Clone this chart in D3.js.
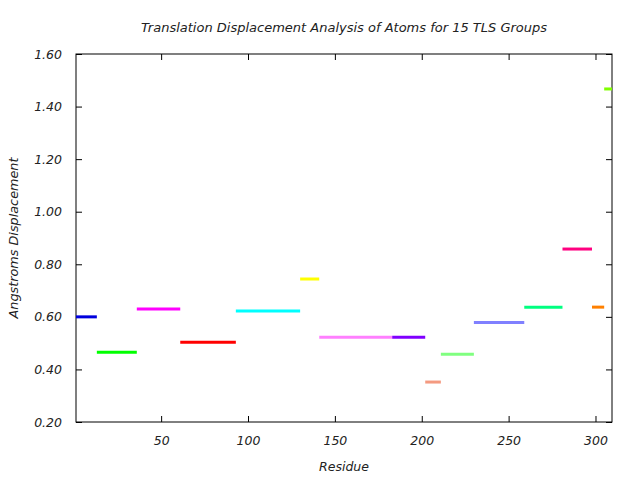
<!DOCTYPE html>
<html lang="en">
<style>
  body { margin: 0; background: #fff; }
  text { font-family: "DejaVu Sans", sans-serif; font-style: italic; }
</style>
<body>
<script src="https://cdn.jsdelivr.net/npm/d3@7"></script>
<div id="vis"></div>
<script>

// TLS group residue ranges and their displacement
var groupStart = [1, 13, 36, 61, 93, 130, 141, 183, 202, 211, 230, 259, 281, 298, 305];
var groupEnd   = [13, 36, 61, 93, 130, 141, 183, 202, 211, 230, 259, 281, 298, 305, 312];
var displacement = [0.60, 0.465, 0.63, 0.503, 0.622, 0.744, 0.522, 0.522, 0.352, 0.458, 0.579, 0.637, 0.858, 0.637, 1.467];
var groupColors = ["#0000dd", "#00ff00", "#ff00ff", "#ff0000", "#00ffff", "#ffff00", "#ff80ff", "#8000ff",
                   "#f49a80", "#80ff80", "#8080ff", "#00ff80", "#ff0080", "#ff8000", "#80ff00"];
var xTicks = [50, 100, 150, 200, 250, 300];
var yTicks = [0.2, 0.4, 0.6, 0.8, 1.0, 1.2, 1.4, 1.6];

var margin = {top: 54, right: 28, bottom: 58, left: 76},
    width = 640 - margin.left - margin.right,
    height = 480 - margin.top - margin.bottom;

var svg = d3.select("#vis").append("svg")
    .attr("width", 640)
    .attr("height", 480)
  .append("g")
    .attr("transform", `translate(${margin.left},${margin.top})`);

var x = d3.scaleLinear().domain([1, 309.5]).range([0, width]);
var y = d3.scaleLinear().domain([0.2, 1.6]).range([height, 0]);

svg.append("defs").append("clipPath").attr("id", "clip")
   .append("rect").attr("width", width).attr("height", height);

// inward ticks on all four sides
svg.append("g").attr("transform", `translate(0,${height})`)
   .call(d3.axisBottom(x).tickValues(xTicks).tickSizeInner(-6).tickSizeOuter(0).tickPadding(14).tickFormat(d3.format("d")));
svg.append("g")
   .call(d3.axisTop(x).tickValues(xTicks).tickSizeInner(-6).tickSizeOuter(0).tickFormat(""));
svg.append("g")
   .call(d3.axisLeft(y).tickValues(yTicks).tickSizeInner(-6).tickSizeOuter(0).tickPadding(14).tickFormat(d3.format(".2f")));
svg.append("g").attr("transform", `translate(${width},0)`)
   .call(d3.axisRight(y).tickValues(yTicks).tickSizeInner(-6).tickSizeOuter(0).tickFormat(""));

svg.selectAll(".domain").remove();
svg.selectAll(".tick line").attr("stroke", "black");
svg.selectAll(".tick text").attr("font-size", "12.5px").attr("fill", "#222")
   .style("font-family", "DejaVu Sans").style("font-style", "italic");

svg.append("rect")
   .attr("width", width).attr("height", height)
   .attr("fill", "none").attr("stroke", "black").attr("stroke-width", 1);

svg.append("g").attr("clip-path", "url(#clip)")
   .selectAll("line")
   .data(displacement)
   .enter()
   .append("line")
   .attr("x1", function(d, i) { return x(groupStart[i]); })
   .attr("x2", function(d, i) { return x(groupEnd[i]); })
   .attr("y1", function(d) { return y(d); })
   .attr("y2", function(d) { return y(d); })
   .attr("stroke", function(d, i) { return groupColors[i]; })
   .attr("stroke-width", 3);

svg.append("text")
   .attr("x", width / 2)
   .attr("y", -22)
   .attr("text-anchor", "middle")
   .attr("font-size", "13px")
   .attr("fill", "#222")
   .text("Translation Displacement Analysis of Atoms for 15 TLS Groups");

svg.append("text")
   .attr("x", width / 2)
   .attr("y", height + 49)
   .attr("text-anchor", "middle")
   .attr("font-size", "12.5px")
   .attr("fill", "#222")
   .text("Residue");

svg.append("text")
   .attr("transform", `translate(${-58},${height / 2}) rotate(-90)`)
   .attr("text-anchor", "middle")
   .attr("font-size", "12.8px")
   .attr("fill", "#222")
   .text("Angstroms Displacement");

</script>
</body>
</html>
